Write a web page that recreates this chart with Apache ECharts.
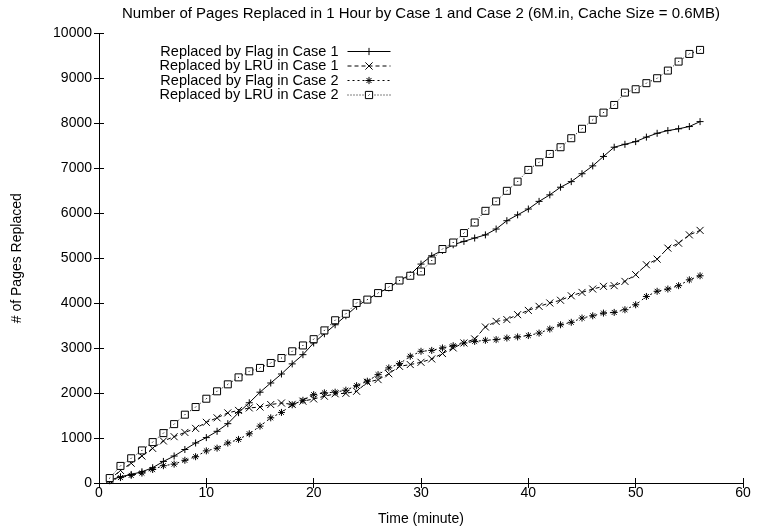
<!DOCTYPE html>
<html>
<head>
<meta charset="utf-8">
<script src="https://cdn.jsdelivr.net/npm/echarts@6/dist/echarts.min.js"></script>
<style>
  html, body { margin: 0; padding: 0; background: #fff; }
  #chart { width: 760px; height: 531px; }
</style>
</head>
<body>
<div id="chart"></div>
<script>
// Elapsed time of each sample, in minutes
const minutes = [1, 2, 3, 4, 5, 6, 7, 8, 9, 10, 11, 12, 13, 14, 15, 16, 17, 18, 19, 20,
  21, 22, 23, 24, 25, 26, 27, 28, 29, 30, 31, 32, 33, 34, 35, 36, 37, 38, 39, 40,
  41, 42, 43, 44, 45, 46, 47, 48, 49, 50, 51, 52, 53, 54, 55, 56];

// Cumulative number of pages replaced
const flagCase1 = [60, 140, 190, 250, 340, 480, 600, 745, 890, 1010, 1150, 1320, 1565, 1785, 2020, 2225, 2425, 2650, 2855, 3115,
  3320, 3520, 3720, 3930, 4080, 4225, 4340, 4505, 4635, 4870, 5055, 5175, 5300, 5375, 5450, 5520, 5650, 5835, 5965, 6095,
  6265, 6410, 6580, 6705, 6880, 7055, 7265, 7470, 7535, 7595, 7695, 7780, 7840, 7880, 7930, 8040];
const lruCase1 = [80, 280, 440, 600, 770, 935, 1030, 1125, 1215, 1350, 1450, 1560, 1615, 1670, 1690, 1745, 1780, 1750, 1820, 1870,
  1930, 1985, 1995, 2040, 2240, 2300, 2430, 2595, 2635, 2685, 2760, 2880, 3005, 3115, 3205, 3470, 3595, 3635, 3745, 3840,
  3930, 4005, 4065, 4165, 4240, 4315, 4375, 4390, 4485, 4635, 4855, 4980, 5225, 5335, 5520, 5620];
const flagCase2 = [50, 120, 170, 220, 300, 385, 420, 505, 585, 715, 775, 890, 970, 1095, 1265, 1450, 1570, 1740, 1840, 1965,
  2005, 2020, 2065, 2165, 2265, 2410, 2560, 2655, 2820, 2930, 2950, 3005, 3055, 3115, 3150, 3175, 3190, 3225, 3250, 3280,
  3335, 3425, 3520, 3575, 3670, 3720, 3780, 3795, 3855, 3965, 4150, 4265, 4315, 4390, 4520, 4610];
const lruCase2 = [110, 380, 550, 725, 910, 1110, 1310, 1520, 1690, 1875, 2040, 2195, 2350, 2485, 2560, 2670, 2780, 2930, 3060, 3200,
  3395, 3620, 3765, 4005, 4080, 4225, 4360, 4505, 4610, 4705, 4950, 5205, 5350, 5560, 5795, 6055, 6265, 6500, 6705, 6965,
  7135, 7320, 7470, 7670, 7880, 8080, 8240, 8410, 8685, 8760, 8895, 9005, 9175, 9375, 9545, 9635];

const seriesNames = [
  'Replaced by Flag in Case 1',
  'Replaced by LRU in Case 1',
  'Replaced by Flag in Case 2',
  'Replaced by LRU in Case 2'
];
const seriesValues = [flagCase1, lruCase1, flagCase2, lruCase2];

const titleText = 'Number of Pages Replaced in 1 Hour by Case 1 and Case 2 (6M.in, Cache Size = 0.6MB)';
const xAxisName = 'Time (minute)';
const yAxisName = '# of Pages Replaced';

// Marker shapes: plus, cross, asterisk, open box with centre dot
const PLUS = 'path://M0,5L10,5M5,0L5,10';
const CROSS = 'path://M0,0L10,10M10,0L0,10';
const STAR = 'path://M0,5L10,5M5,0L5,10M1.5,1.5L8.5,8.5M8.5,1.5L1.5,8.5';
const BOX = 'path://M0,0L10,0L10,10L0,10ZM4.3,5.7L5.7,4.3';

const styles = [
  { symbol: PLUS,  size: 7, dash: 'solid',  lineColor: '#000' },
  { symbol: CROSS, size: 7, dash: [4, 3],   lineColor: '#000' },
  { symbol: STAR,  size: 7, dash: [2, 3],   lineColor: '#000' },
  { symbol: BOX,   size: 7, dash: [1, 2],   lineColor: '#000' }
];

const FONT = 'Liberation Sans, Arial, Helvetica, sans-serif';
const legendCentres = [48.5, 63, 77.5, 92];
const markerStyle = { color: '#fff', borderColor: '#000', borderWidth: 1 };

const chart = echarts.init(document.getElementById('chart'), null, { renderer: 'canvas' });

const frameAxis = {
  min: 0,
  axisLine: { show: true, lineStyle: { color: '#000', width: 1 } },
  axisTick: { show: true, inside: true, length: 5, lineStyle: { color: '#000', width: 1 } },
  splitLine: { show: false }
};

const plainNumber = (v) => String(v);

const option = {
  animation: false,
  backgroundColor: '#fff',
  title: {
    text: titleText,
    left: 421,
    top: 6,
    padding: 0,
    textAlign: 'center',
    textStyle: { fontFamily: FONT, fontSize: 15, fontWeight: 'normal', color: '#000' }
  },
  legend: seriesNames.map((name, i) => ({
    data: [name],
    right: 369,
    top: legendCentres[i] - 4.5,
    orient: 'horizontal',
    align: 'right',
    padding: 0,
    itemGap: 0,
    itemWidth: 43,
    itemHeight: 9,
    selectedMode: false,
    itemStyle: markerStyle,
    lineStyle: { color: styles[i].lineColor, width: 1, type: styles[i].dash },
    textStyle: { fontFamily: FONT, fontSize: 14.5, color: '#000', padding: [0, 4, 0, 0] }
  })),
  grid: { left: 99, right: 17, top: 33.5, bottom: 47.5, containLabel: false },
  xAxis: [
    Object.assign({}, frameAxis, {
      type: 'value', position: 'bottom', max: 60, interval: 10,
      name: xAxisName, nameLocation: 'middle', nameGap: 29,
      nameTextStyle: { fontFamily: FONT, fontSize: 14, color: '#000' },
      axisLabel: { show: true, margin: 3, fontFamily: FONT, fontSize: 14, color: '#000', formatter: plainNumber }
    }),
    Object.assign({}, frameAxis, {
      type: 'value', position: 'top', max: 60, interval: 10,
      axisLabel: { show: false }
    })
  ],
  yAxis: [
    Object.assign({}, frameAxis, {
      type: 'value', position: 'left', max: 10000, interval: 1000,
      name: yAxisName, nameLocation: 'middle', nameGap: 75,
      nameTextStyle: { fontFamily: FONT, fontSize: 14, color: '#000' },
      axisLabel: { show: true, margin: 7, fontFamily: FONT, fontSize: 14, color: '#000', formatter: plainNumber }
    }),
    Object.assign({}, frameAxis, {
      type: 'value', position: 'right', max: 10000, interval: 1000,
      axisLabel: { show: false }
    })
  ],
  series: seriesNames.map((name, i) => ({
    name: name,
    type: 'line',
    xAxisIndex: 0,
    yAxisIndex: 0,
    data: minutes.map((m, j) => [m, seriesValues[i][j]]),
    symbol: styles[i].symbol,
    symbolSize: styles[i].size,
    showSymbol: true,
    showAllSymbol: true,
    color: '#000',
    itemStyle: markerStyle,
    lineStyle: { color: styles[i].lineColor, width: 1, type: styles[i].dash },
    emphasis: { disabled: true },
    z: 2 + i
  }))
};

chart.setOption(option);
</script>
</body>
</html>
